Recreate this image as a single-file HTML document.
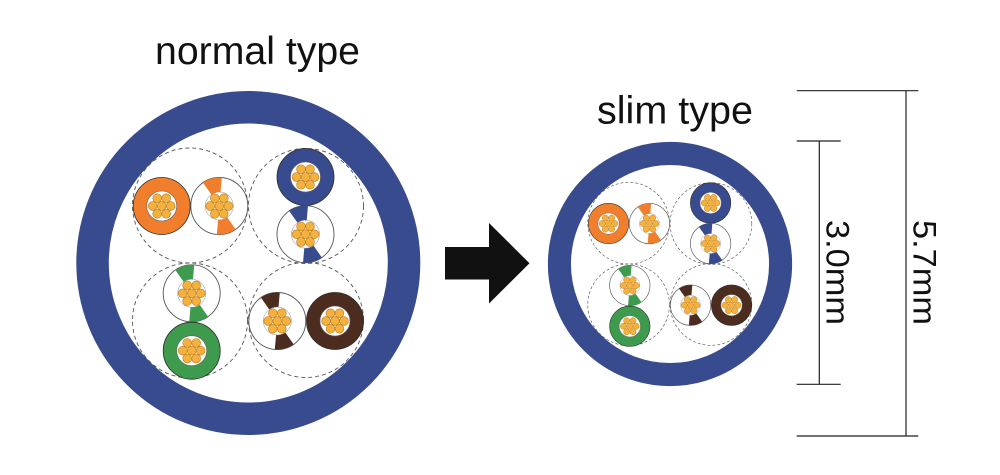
<!DOCTYPE html>
<html><head><meta charset="utf-8"><style>
html,body{margin:0;padding:0;background:#fff;}
svg{display:block;}
text{font-family:"Liberation Sans",Arial,sans-serif;fill:#111;}
</style></head><body>
<svg width="1000" height="475" viewBox="0 0 1000 475" xmlns="http://www.w3.org/2000/svg">
<defs>
  <g id="strands">
    <g fill="#f4b23c" stroke="#b9792a" stroke-width="0.6">
      <circle cx="0" cy="0" r="4.4"/>
      <circle cx="-9" cy="0" r="4.4"/>
      <circle cx="9" cy="0" r="4.4"/>
      <circle cx="-4.5" cy="-7.8" r="4.4"/>
      <circle cx="4.5" cy="-7.8" r="4.4"/>
      <circle cx="-4.5" cy="7.8" r="4.4"/>
      <circle cx="4.5" cy="7.8" r="4.4"/>
    </g>
  </g>
  <g id="solidW">
    <circle r="28.5" fill="currentColor" stroke="#2a2a2a" stroke-width="0.8"/>
    <circle r="15" fill="#fff" stroke="#666" stroke-width="0.6"/>
    <use href="#strands"/>
  </g>
  <g id="stripeW">
    <circle r="28.5" fill="#fff" stroke="#555" stroke-width="0.9"/>
    <path fill="currentColor" d="M-16.35,-23.35 A28.5,28.5 0 0 1 2.48,-28.39 L1.22,-13.95 A14,14 0 0 0 -8.03,-11.47 Z"/>
    <path fill="currentColor" d="M16.35,23.35 A28.5,28.5 0 0 1 -2.48,28.39 L-1.22,13.95 A14,14 0 0 0 8.03,11.47 Z"/>
    <circle r="14" fill="#fff" stroke="#888" stroke-width="0.5"/>
    <use href="#strands"/>
  </g>
  <g id="cable">
    <circle cx="248.3" cy="263" r="155.75" fill="#fff" stroke="#374b8e" stroke-width="32.5"/>
    <g fill="none" stroke="#555" stroke-width="0.9" stroke-dasharray="4 3">
      <circle cx="190" cy="205.5" r="57.5"/>
      <circle cx="306" cy="206" r="57.5"/>
      <circle cx="190" cy="320.5" r="57.5"/>
      <circle cx="306" cy="320" r="57.5"/>
    </g>
    <use href="#solidW" x="161.7" y="206" style="color:#f07e2c"/>
    <use href="#stripeW" x="219.3" y="206" style="color:#f07e2c"/>
    <use href="#solidW" x="305.5" y="177" style="color:#374b8e"/>
    <use href="#stripeW" x="305.5" y="234.2" style="color:#374b8e"/>
    <use href="#stripeW" x="191.7" y="293.3" style="color:#3e9a4c"/>
    <use href="#solidW" x="191.7" y="350.7" style="color:#3e9a4c"/>
    <use href="#stripeW" x="277.3" y="321" style="color:#4d2c20"/>
    <use href="#solidW" x="335" y="321" style="color:#4d2c20"/>
  </g>
</defs>

<text x="155" y="64" font-size="39" textLength="205" lengthAdjust="spacingAndGlyphs">normal type</text>
<text x="597" y="123.5" font-size="39" textLength="156" lengthAdjust="spacingAndGlyphs">slim type</text>

<use href="#cable"/>

<polygon points="445,247 489,247 489,223 529.5,263.3 489,303.5 489,279.5 445,279.5" fill="#111"/>

<g transform="translate(670,264) scale(0.71) translate(-248.3,-263)">
  <use href="#cable"/>
</g>

<g stroke="#222" stroke-width="1.2" fill="none">
  <line x1="796.7" y1="90.7" x2="918.3" y2="90.7"/>
  <line x1="796.7" y1="436" x2="918.3" y2="436"/>
  <line x1="906" y1="90.7" x2="906" y2="436"/>
  <line x1="796.7" y1="141" x2="840.7" y2="141"/>
  <line x1="796.7" y1="384.3" x2="840.7" y2="384.3"/>
  <line x1="819.3" y1="141" x2="819.3" y2="384.3"/>
</g>
<text transform="translate(826.5,220) rotate(90)" x="0" y="0" font-size="32" textLength="105" lengthAdjust="spacingAndGlyphs">3.0mm</text>
<text transform="translate(913.3,220) rotate(90)" x="0" y="0" font-size="32" textLength="105" lengthAdjust="spacingAndGlyphs">5.7mm</text>
</svg>
</body></html>
